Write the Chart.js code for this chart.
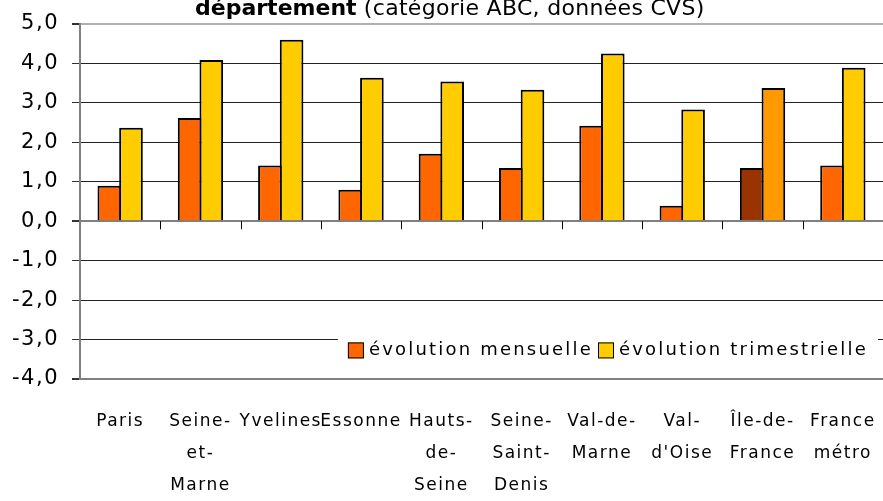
<!DOCTYPE html>
<html>
<head>
<meta charset="utf-8">
<script src="https://cdn.jsdelivr.net/npm/chart.js@4"></script>
<style>
  html, body { margin: 0; padding: 0; background: #fff; }
  #wrap { width: 883px; height: 501px; }
</style>
</head>
<body>
<div id="wrap"><canvas id="chart" width="883" height="501"></canvas></div>
<script>
// data
const categories = [
    'Paris', ['Seine-', 'et-', 'Marne'], 'Yvelines', 'Essonne', ['Hauts-', 'de-', 'Seine'],
    ['Seine-', 'Saint-', 'Denis'], ['Val-de-', 'Marne'], ['Val-', "d'Oise"], ['Île-de-', 'France'], ['France', 'métro']
];
const mensuelle = [0.90, 2.62, 1.41, 0.80, 1.71, 1.35, 2.42, 0.39, 1.35, 1.41];
const trimestrielle = [2.37, 4.09, 4.60, 3.64, 3.54, 3.33, 4.25, 2.83, 3.38, 3.89];
const seriesNames = ['évolution mensuelle', 'évolution trimestrielle'];
const yTicks = { min: -4, max: 5, step: 1 };

const FONT = "'DejaVu Sans', sans-serif";
const orange = '#FF6600', yellow = '#FFCC00';
// Île-de-France is highlighted with other shades
const mensColors = categories.map((c, i) => i === 8 ? '#993300' : orange);
const trimColors = categories.map((c, i) => i === 8 ? '#FF9900' : yellow);

// the original text is widely spaced
const spacing = {
    id: 'spacing',
    beforeUpdate(chart) { chart.ctx.letterSpacing = '1.5px'; },
    beforeDraw(chart) { chart.ctx.letterSpacing = '1.5px'; }
};

// title is cut at the top of the picture
const titlePlugin = {
    id: 'cutTitle',
    afterDraw(chart) {
        const ctx = chart.ctx;
        ctx.save();
        ctx.fillStyle = '#000';
        ctx.textBaseline = 'alphabetic';
        ctx.letterSpacing = '0px';
        const bold = 'département';
        const rest = ' (catégorie ABC, données CVS)';
        ctx.font = 'bold 22px ' + FONT;
        ctx.fillText(bold, 195, 15);
        const w1 = ctx.measureText(bold).width;
        ctx.letterSpacing = '0.3px';
        ctx.font = '22px ' + FONT;
        ctx.fillText(rest, 195 + w1, 15);
        ctx.restore();
    }
};

// small category ticks on the zero line
const zeroTicks = {
    id: 'zeroTicks',
    afterDatasetsDraw(chart) {
        const x = chart.scales.x, y = chart.scales.y;
        const ctx = chart.ctx;
        const y0 = y.getPixelForValue(0);
        const half = (x.getPixelForTick(1) - x.getPixelForTick(0)) / 2;
        ctx.save();
        ctx.strokeStyle = '#000';
        ctx.lineWidth = 1;
        ctx.beginPath();
        for (let i = 0; i < categories.length; i++) {
            const px = Math.round(x.getPixelForTick(i) + half) + 0.5;
            ctx.moveTo(px, y0);
            ctx.lineTo(px, y0 + 8);
        }
        ctx.stroke();
        ctx.restore();
    }
};

// legend sitting inside the plot, bottom right
const boxLegend = {
    id: 'boxLegend',
    afterDatasetsDraw(chart) {
        const ctx = chart.ctx;
        const area = chart.chartArea;
        const y = chart.scales.y;
        const cy = (y.getPixelForValue(-3) + y.getPixelForValue(-3.5)) / 2 + 1;
        ctx.save();
        ctx.font = '18px ' + FONT;
        ctx.letterSpacing = '2.2px';
        const box = 16, gap = 5, between = 5, pad = 10;
        const widths = seriesNames.map(n => ctx.measureText(n).width);
        const total = widths.reduce((a, b) => a + b, 0) + 2 * (box + gap) + between + 2 * pad;
        const left = area.right - 5 - total;
        ctx.fillStyle = '#fff';
        ctx.fillRect(left, cy - 14, total, 28);
        let x = left + pad;
        const fills = [orange, yellow];
        seriesNames.forEach((n, i) => {
            ctx.fillStyle = fills[i];
            ctx.fillRect(x, cy - box / 2, box, box);
            ctx.strokeStyle = '#000';
            ctx.lineWidth = 1;
            ctx.strokeRect(x + 0.5, cy - box / 2 + 0.5, box - 1, box - 1);
            x += box + gap;
            ctx.fillStyle = '#000';
            ctx.textBaseline = 'middle';
            ctx.fillText(n, x, cy);
            x += widths[i] + between;
        });
        ctx.restore();
    }
};

new Chart(document.getElementById('chart'), {
    type: 'bar',
    data: {
        labels: categories,
        datasets: [
            {
                label: seriesNames[0],
                data: mensuelle,
                backgroundColor: mensColors,
                borderColor: '#000',
                borderWidth: 2,
                categoryPercentage: 0.54,
                barPercentage: 1.09
            },
            {
                label: seriesNames[1],
                data: trimestrielle,
                backgroundColor: trimColors,
                borderColor: '#000',
                borderWidth: 2,
                categoryPercentage: 0.54,
                barPercentage: 1.09
            }
        ]
    },
    options: {
        responsive: false,
        animation: false,
        layout: { padding: { top: 24, right: 0, left: 0, bottom: 0 } },
        plugins: {
            legend: { display: false },
            title: { display: false },
            tooltip: { enabled: false }
        },
        scales: {
            x: {
                grid: { display: false, drawTicks: false },
                border: { display: false },
                ticks: {
                    color: '#000',
                    padding: 27,
                    maxRotation: 0,
                    autoSkip: false,
                    font: { family: FONT, size: 17, lineHeight: 1.88 }
                },
                afterFit(scale) {
                    scale.height = 122;
                    scale.paddingLeft = 0;
                    scale.paddingRight = 0;
                }
            },
            y: {
                min: yTicks.min,
                max: yTicks.max,
                ticks: {
                    stepSize: yTicks.step,
                    color: '#000',
                    padding: 13,
                    font: { family: FONT, size: 21 },
                    callback: v => v.toFixed(1).replace('.', ',')
                },
                grid: {
                    tickLength: 8,
                    tickColor: '#333',
                    color: ctx => {
                        const v = ctx.tick && ctx.tick.value;
                        if (v === yTicks.max) return '#b0b0b0';
                        if (v === 0 || v === yTicks.min) return '#808080';
                        return '#222';
                    },
                    lineWidth: ctx => {
                        const v = ctx.tick && ctx.tick.value;
                        return (v === 0 || v === yTicks.max || v === yTicks.min) ? 2 : 1;
                    }
                },
                border: { color: '#808080', width: 2 },
                afterFit(scale) {
                    scale.width = 80;
                    scale.paddingTop = 0;
                    scale.paddingBottom = 0;
                }
            }
        }
    },
    plugins: [spacing, titlePlugin, zeroTicks, boxLegend]
});
</script>
</body>
</html>
